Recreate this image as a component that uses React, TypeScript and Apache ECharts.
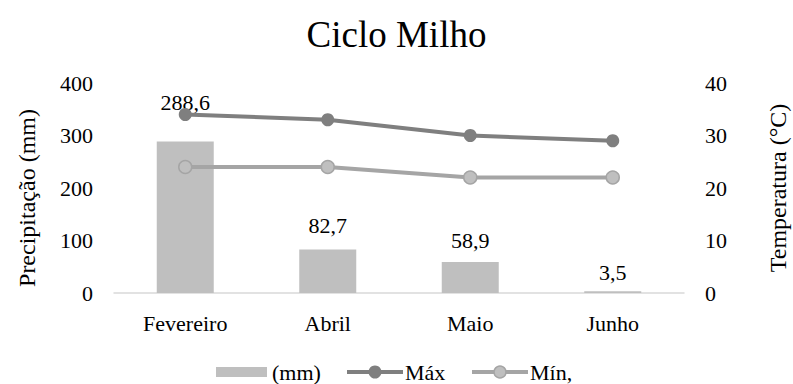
import React, { useEffect, useRef } from "react";
import * as echarts from "echarts";

const categories = ["Fevereiro", "Abril", "Maio", "Junho"];
const precip = [288.6, 82.7, 58.9, 3.5];
const tMax = [34, 33, 30, 29];
const tMin = [24, 24, 22, 22];
const leftTicks = [0, 100, 200, 300, 400];
const rightTicks = [0, 10, 20, 30, 40];
const legendNames = ["(mm)", "Máx", "Mín,"];
const axisNames = ["Precipitação (mm)", "Temperatura (°C)"];

const FONT = "Liberation Serif";
const C_BAR = "#bfbfbf";
const C_MAX = "#7f7f7f";
const C_MIN = "#a5a5a5";
const labelOffsets = [-17, -2, 0, 3];

export default function App() {
  const ref = useRef<HTMLDivElement>(null);
  useEffect(() => {
    if (!ref.current) return;
    const chart = echarts.init(ref.current, undefined, { renderer: "svg" });
    const txt = (text: string, x: number, y: number, extra: any = {}) => ({
      type: "text",
      x,
      y,
      ...extra,
      style: {
        text,
        fontFamily: FONT,
        fontSize: 22,
        fill: "#000",
        align: "left",
        verticalAlign: "middle",
        ...(extra.style || {}),
      },
    });
    const LY = 372;
    chart.setOption({
      animation: false,
      backgroundColor: "#ffffff",
      textStyle: { fontFamily: FONT, color: "#000" },
      title: {
        text: "Ciclo Milho",
        left: "center",
        top: 11,
        textStyle: { fontFamily: FONT, fontSize: 37, fontWeight: "normal", color: "#000" },
      },
      grid: { left: 114, right: 109, top: 83, bottom: 91 },
      xAxis: {
        type: "category",
        data: categories,
        axisLine: { lineStyle: { color: "#d9d9d9", width: 1.5 } },
        axisTick: { show: false },
        axisLabel: { fontFamily: FONT, fontSize: 22, color: "#000", margin: 19 },
      },
      yAxis: [
        {
          type: "value",
          min: leftTicks[0],
          max: leftTicks[leftTicks.length - 1],
          interval: 100,
          axisLabel: { fontFamily: FONT, fontSize: 22, color: "#000", margin: 21 },
          axisLine: { show: false },
          axisTick: { show: false },
          splitLine: { show: false },
        },
        {
          type: "value",
          min: rightTicks[0],
          max: rightTicks[rightTicks.length - 1],
          interval: 10,
          axisLabel: { fontFamily: FONT, fontSize: 22, color: "#000", margin: 21 },
          axisLine: { show: false },
          axisTick: { show: false },
          splitLine: { show: false },
        },
      ],
      graphic: [
        txt(axisNames[0], 27, 198, {
          rotation: Math.PI / 2,
          style: { align: "center", fontSize: 24 },
        }),
        txt(axisNames[1], 778, 188, {
          rotation: Math.PI / 2,
          style: { align: "center", fontSize: 24 },
        }),
        { type: "rect", shape: { x: 216, y: LY - 5, width: 51, height: 10 }, style: { fill: C_BAR } },
        txt(legendNames[0], 272, LY),
        { type: "line", shape: { x1: 347, y1: LY, x2: 403, y2: LY }, style: { stroke: C_MAX, lineWidth: 4 } },
        { type: "circle", shape: { cx: 375, cy: LY, r: 6.5 }, style: { fill: C_MAX } },
        txt(legendNames[1], 405, LY),
        { type: "line", shape: { x1: 472, y1: LY, x2: 528, y2: LY }, style: { stroke: C_MIN, lineWidth: 4 } },
        { type: "circle", shape: { cx: 500, cy: LY, r: 6 }, style: { fill: C_BAR, stroke: C_MIN, lineWidth: 1.5 } },
        txt(legendNames[2], 530, LY),
      ],
      series: [
        {
          name: legendNames[0],
          type: "bar",
          yAxisIndex: 0,
          barWidth: "40%",
          itemStyle: { color: C_BAR },
          data: precip.map((v, i) => ({
            value: v,
            label: { offset: [0, labelOffsets[i]] },
          })),
          label: {
            show: true,
            position: "top",
            distance: 11,
            fontFamily: FONT,
            fontSize: 22,
            color: "#000",
            formatter: (p: any) => String(p.value).replace(".", ","),
          },
        },
        {
          name: legendNames[1],
          type: "line",
          yAxisIndex: 1,
          data: tMax,
          symbol: "circle",
          symbolSize: 13,
          lineStyle: { color: C_MAX, width: 4 },
          itemStyle: { color: C_MAX },
        },
        {
          name: legendNames[2],
          type: "line",
          yAxisIndex: 1,
          data: tMin,
          symbol: "circle",
          symbolSize: 13,
          lineStyle: { color: C_MIN, width: 4 },
          itemStyle: { color: C_BAR, borderColor: C_MIN, borderWidth: 1.5 },
        },
      ],
    });
    return () => chart.dispose();
  }, []);
  return <div ref={ref} style={{ width: 793, height: 384, position: "absolute", left: 0, top: 0 }} />;
}
